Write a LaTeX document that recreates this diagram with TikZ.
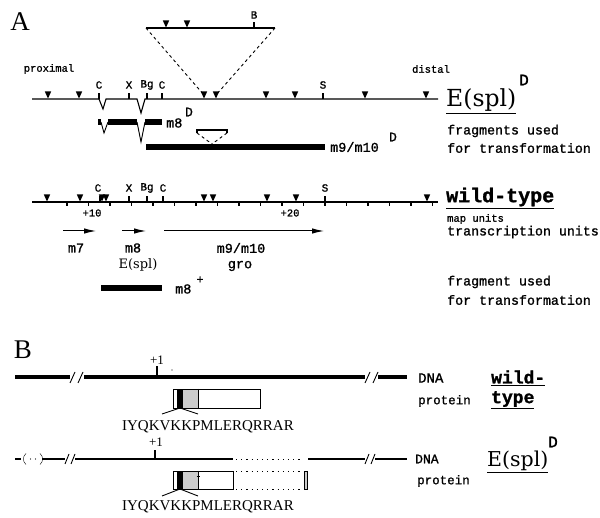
\documentclass[tikz,border=0pt]{standalone}
\usepackage{fontspec}
\setmainfont{DejaVu Serif}
\newfontfamily\timesf{Liberation Serif}
\newfontfamily\monof[FakeBold=1.2]{Liberation Mono}
\newfontfamily\monobf[FakeBold=1.5]{Liberation Mono Bold}
\usetikzlibrary{arrows.meta}
\begin{document}
\begin{tikzpicture}[x=1pt,y=-1pt,
  lbl/.style={inner sep=0pt,font=\monof\fontsize{10.5}{11}\selectfont},
  site/.style={inner sep=0pt,font=\monof\fontsize{11}{12}\selectfont},
  lab/.style={inner sep=0pt,font=\monof\fontsize{13.5}{14}\selectfont},
  txt/.style={inner sep=0pt,anchor=west,font=\monof\fontsize{13.3}{14}\selectfont},
  big/.style={inner sep=0pt,anchor=west,font=\fontsize{23.5}{24}\selectfont},
  bigb/.style={inner sep=0pt,anchor=west,font=\monobf\fontsize{20}{21}\selectfont},
  sup/.style={inner sep=0pt,font=\monof\fontsize{16}{17}\selectfont},
  seq/.style={inner sep=0pt,font=\timesf\fontsize{15}{16}\selectfont},
  panel/.style={inner sep=0pt,font=\timesf\fontsize{27}{28}\selectfont},
  mline/.style={line width=1.1pt},
  arr/.style={line width=1pt,-{Latex[length=12pt,width=5.5pt]}},
  pics/tri/.style={code={\fill (-3.2,-7.5) -- (3.2,-7.5) -- (0,-0.5) -- cycle;}}
]
\useasboundingbox (0,0) rectangle (600,518);

% ---------------- Panel A ----------------
\node[panel] (A) at (20,22) {A};

% inset
\draw[mline] (146,28) -- (275,28);
\pic at (166,28) {tri}; \pic at (187,28) {tri};
\draw[mline] (254,28) -- (254,22);
\node[site] (sB) at (254,15) {B};
\coordinate (insL) at (146,28);
\coordinate (insR) at (275,28);
\coordinate (insLb) at (204,95);
\coordinate (insRb) at (216,95);
\draw[dashed,line width=0.9pt] (insL) -- (insLb);
\draw[dashed,line width=0.9pt] (insR) -- (insRb);

\node[lbl] (prox) at (49,69) {proximal};
\node[lbl] (dist) at (431,69) {distal};

% E(spl)D map line
\draw[mline] (32,99) -- (99,99) -- (103,109) -- (106,99) -- (137,99) -- (141,113) -- (145,99) -- (438,99);
\foreach \x in {99,129,147,162,323} \draw[mline] (\x,99) -- (\x,93);
\node[site] (c1) at (99,85) {C};
\node[site] (x1) at (129,85) {X};
\node[site] (bg1) at (147,85) {Bg};
\node[site] (c2) at (162,85) {C};
\node[site] (s1) at (323,85) {S};
\foreach \x in {48,79,204,216,266,295,365,426} \pic at (\x,99) {tri};

\node[big] (espl1) at (446,101) {\underline{E(spl)}};
\node[sup] (d1) at (524,80) {D};

% m8D fragment
\fill (98,119.5) rectangle (100.5,125);
\draw[line width=0.9pt] (101,122) -- (104,133) -- (108,122);
\fill (108,119) rectangle (137,125);
\draw[line width=0.9pt] (137,122) -- (141,142) -- (145,122);
\fill (145,119) rectangle (162,125);
\node[lab,anchor=west] (m8d) at (166,123) {m8};
\node[sup,font=\monof\fontsize{13}{14}\selectfont] (d2) at (189,112) {D};

% small dashed triangle and m9/m10 bar
\draw[mline] (197,133) -- (197,130) -- (227,130) -- (227,133);
\coordinate (stip) at (212,144);
\draw[dashed,line width=0.9pt] (197,133) -- (stip);
\draw[dashed,line width=0.9pt] (227,133) -- (stip);
\fill (146,144) rectangle (325,150);
\node[lab,anchor=west] (m910d) at (330,147) {m9/m10};
\node[sup,font=\monof\fontsize{13}{14}\selectfont] (d3) at (393,137) {D};

\node[txt] (fu1) at (447,131) {fragments used};
\node[txt] (ft1) at (447,148) {for transformation};

% wild-type map line
\draw[mline] (32,202) -- (438,202);
\foreach \x in {67,88.5,110,131.5,153,174.5,196,217.5,239,260.5,282,303.5,325,346.5,368,389.5,411,432.5}
  \draw[mline] (\x,202) -- (\x,206);
\foreach \x in {100,129,147,163,325} \draw[mline] (\x,202) -- (\x,196);
\node[site] (c3) at (98,188) {C};
\node[site] (x3) at (129,188) {X};
\node[site] (bg3) at (147,188) {Bg};
\node[site] (c4) at (163,188) {C};
\node[site] (s3) at (325,188) {S};
\foreach \x in {47,80,102,106,204,213,267,296,427} \pic at (\x,202) {tri};

\node[lbl] (p10) at (92,213) {+10};
\node[lbl] (p20) at (290,213) {+20};

\node[bigb] (wt) at (446,198) {\underline{wild-type}};
\node[lbl,anchor=west] (mu) at (447,219) {map units};
\node[txt] (tu) at (447,232) {transcription units};

% transcription units
\coordinate (m7s) at (63,231); \coordinate (m7e) at (96,231);
\coordinate (m8s) at (122,231); \coordinate (m8e) at (146,231);
\coordinate (m9s) at (164,231); \coordinate (m9e) at (324,231);
\draw[arr] (m7s) -- (m7e);
\draw[arr] (m8s) -- (m8e);
\draw[arr] (m9s) -- (m9e);
\node[lab] (lm7) at (76,248) {m7};
\node[lab] (lm8) at (133,248) {m8};
\node[lab,font=\fontsize{13}{14}\selectfont] (lespl) at (138,265) {E(spl)};
\node[lab] (lm910) at (241,248) {m9/m10};
\node[lab] (lgro) at (240,266) {gro};

% m8+ fragment
\fill (101,285) rectangle (162,291);
\node[lab,anchor=west] (m8p) at (175,289) {m8};
\node[sup,font=\monof\fontsize{12}{13}\selectfont] (pl) at (200,280) {+};

\node[txt] (fu2) at (447,282) {fragment used};
\node[txt] (ft2) at (447,300) {for transformation};

% ---------------- Panel B ----------------
\node[panel] (B) at (23,350) {B};

% wild-type DNA
\draw[line width=3.5pt] (15,377) -- (70,377);
\draw[line width=3.5pt] (84,377) -- (365,377);
\draw[line width=3.5pt] (378,377) -- (407,377);
\draw[line width=0.9pt] (70,383) -- (75,372);
\draw[line width=0.9pt] (78,383) -- (83,372);
\draw[line width=0.9pt] (365,383) -- (370,372);
\draw[line width=0.9pt] (373,383) -- (378,372);
\draw[mline] (157,377) -- (157,366);
\node[lbl,font=\timesf\fontsize{13}{14}\selectfont] (pone1) at (157,360) {+1};
\fill (172,370) circle (0.7);
\node[lab,anchor=west,font=\monof\fontsize{14}{15}\selectfont] (dna1) at (418,378) {DNA};
\node[lab,anchor=west,font=\monof\fontsize{12.5}{13}\selectfont] (prot1) at (418,401) {protein};
\node[bigb,font=\monobf\fontsize{18}{19}\selectfont] (wild) at (491,378) {\underline{wild-}};
\node[bigb,font=\monobf\fontsize{18}{19}\selectfont] (type) at (491,400) {\underline{type}};

% wild-type protein
\fill[black] (177,389) rectangle (183,408);
\fill[gray!40] (183,389) rectangle (198,408);
\draw (198,389) -- (198,408);
\draw[line width=0.8pt] (173,389) rectangle (260,408);
\coordinate (lg1) at (162,414); \coordinate (pk1) at (180,408); \coordinate (rg1) at (198,414);
\draw[line width=0.9pt] (lg1) -- (pk1) -- (rg1);
\node[seq] (seq1) at (208,427) {IYQKVKKPMLERQRRAR};

% E(spl)D DNA
\draw[mline] (15,459) -- (21,459);
\draw (26,453.5) .. controls (22.5,456.5) and (22.5,461.5) .. (26,464.5);
\fill (30.5,459) circle (0.6); \fill (35.5,459) circle (0.6);
\draw (40,453.5) .. controls (43.5,456.5) and (43.5,461.5) .. (40,464.5);
\draw[mline] (42,459) -- (65,459);
\draw[line width=0.9pt] (65,464) -- (69,454);
\draw[line width=0.9pt] (71,464) -- (75,454);
\draw[mline] (75,459) -- (233,459);
\draw[line width=0.9pt,dash pattern=on 1.2pt off 4pt] (236,459) -- (303,459);
\draw[mline] (308,459) -- (365,459);
\draw[line width=0.9pt] (365,464) -- (369,454);
\draw[line width=0.9pt] (371,464) -- (375,454);
\draw[mline] (375,459) -- (407,459);
\draw[mline] (155,459) -- (155,450);
\node[lbl,font=\timesf\fontsize{13}{14}\selectfont] (pone2) at (156,442) {+1};
\node[lab,anchor=west,font=\monof\fontsize{13}{14}\selectfont] (dna2) at (415,459) {DNA};
\node[lab,anchor=west,font=\monof\fontsize{12.5}{13}\selectfont] (prot2) at (417,481) {protein};
\node[big,font=\fontsize{20.5}{21}\selectfont] (espl2) at (487,462) {\underline{E(spl)}};
\node[sup] (d4) at (553,442) {D};

% E(spl)D protein
\fill[black] (177,471) rectangle (183,489);
\fill[gray!40] (183,471) rectangle (198,489);
\draw (198,471) -- (198,489);
\draw (196.5,476) -- (199.5,476);
\draw[line width=0.8pt] (173,471) rectangle (233,489);
\draw[line width=0.9pt,dash pattern=on 1.2pt off 4pt] (236,471) -- (303,471);
\draw[line width=0.9pt,dash pattern=on 1.2pt off 4pt] (236,489) -- (303,489);
\filldraw[fill=gray!40,line width=0.6pt] (304,471) rectangle (307,489);
\coordinate (lg2) at (162,496); \coordinate (pk2) at (180,489); \coordinate (rg2) at (198,496);
\draw[line width=0.9pt] (lg2) -- (pk2) -- (rg2);
\node[seq] (seq2) at (208,507) {IYQKVKKPMLERQRRAR};
\end{tikzpicture}
\end{document}
